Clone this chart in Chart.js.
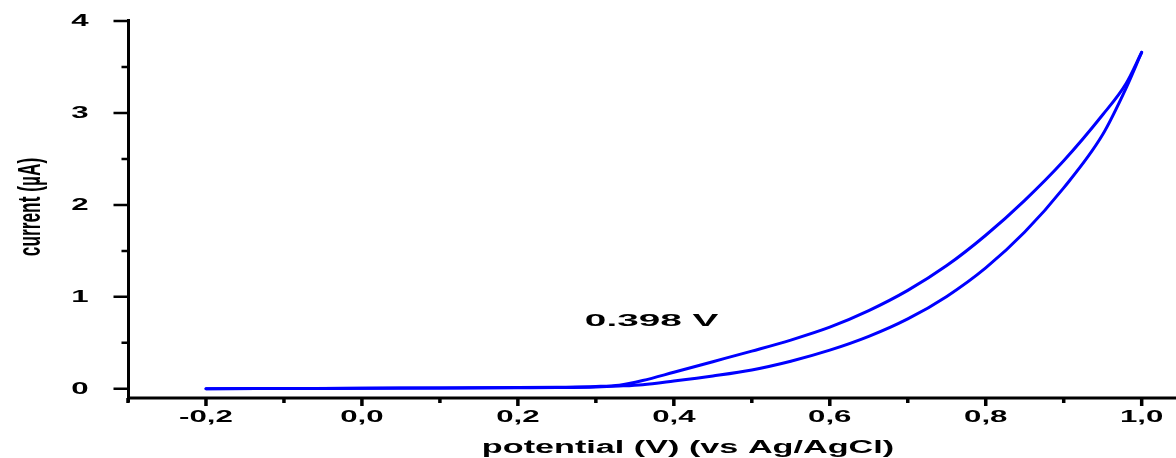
<!DOCTYPE html>
<html>
<head>
<meta charset="utf-8">
<title>Cyclic voltammogram</title>
<script src="https://cdn.jsdelivr.net/npm/chart.js@4"></script>
<style>
  html, body { margin: 0; padding: 0; background: #fff; }
  #wrap { width: 1176px; height: 458px; position: relative; }
</style>
</head>
<body>
<div id="wrap"><canvas id="cv"></canvas></div>
<script>
// Potential sweep (V vs Ag/AgCl)
const potential = [-0.2, -0.1, 0.0, 0.1, 0.2, 0.25, 0.3, 0.33, 0.36, 0.4, 0.45, 0.5, 0.55,
  0.6, 0.65, 0.7, 0.75, 0.8, 0.85, 0.9, 0.95, 0.98, 1.0];

// Current (uA) on the lower and upper branch of the loop
const forwardScan = [0.0, 0.003, 0.006, 0.009, 0.012, 0.014, 0.02, 0.03, 0.045, 0.085, 0.14, 0.205, 0.3,
  0.42, 0.57, 0.76, 1.005, 1.315, 1.705, 2.185, 2.765, 3.27, 3.66];
const reverseScan = [0.0, 0.003, 0.006, 0.01, 0.013, 0.017, 0.025, 0.04, 0.09, 0.18, 0.295, 0.41, 0.53,
  0.67, 0.85, 1.07, 1.34, 1.67, 2.05, 2.48, 2.98, 3.32, 3.66];

// Axis ticks
const xMajorTicks = [-0.2, 0.0, 0.2, 0.4, 0.6, 0.8, 1.0];
const xMinorTicks = [-0.3, -0.1, 0.1, 0.3, 0.5, 0.7, 0.9];
const yMajorTicks = [0, 1, 2, 3, 4];
const yMinorTicks = [0.5, 1.5, 2.5, 3.5];

const xTitle = "potential (V) (vs Ag/AgCl)";
const yTitle = "current (\u00B5A)";
const noteText = "0.398 V";
const notePos = { x: 0.369, y: 0.73 };

const BLUE = "rgb(0,0,255)";
const TICK_FONT = 'bold 16px "Liberation Sans", Arial, sans-serif';

function toPoints(xs, ys) {
  return xs.map((v, i) => ({ x: v, y: ys[i] }));
}

function fmtComma(v) {
  return v.toFixed(1).replace(".", ",");
}

// text drawn with a horizontal stretch factor
function wideText(ctx, text, x, y, sx, align) {
  ctx.save();
  ctx.translate(x, y);
  ctx.scale(sx, 1);
  ctx.textAlign = align;
  ctx.fillText(text, 0, 0);
  ctx.restore();
}

const axesPlugin = {
  id: "cvAxes",
  beforeDatasetsDraw(chart) {
    const ctx = chart.ctx;
    const x = chart.scales.x;
    const y = chart.scales.y;
    const left = x.left + 0.5;
    const base = y.bottom;

    ctx.save();
    ctx.strokeStyle = "#000";
    ctx.lineCap = "butt";

    // axis lines
    ctx.lineWidth = 3;
    ctx.beginPath();
    ctx.moveTo(left, y.getPixelForValue(4) - 2);
    ctx.lineTo(left, base + 4);
    ctx.moveTo(left - 1.5, base);
    ctx.lineTo(x.right, base);
    ctx.stroke();

    // y ticks point outward
    ctx.lineWidth = 2.5;
    ctx.beginPath();
    yMajorTicks.forEach((v) => {
      const py = y.getPixelForValue(v);
      ctx.moveTo(left - 15, py);
      ctx.lineTo(left, py);
    });
    yMinorTicks.forEach((v) => {
      const py = y.getPixelForValue(v);
      ctx.moveTo(left - 7, py);
      ctx.lineTo(left, py);
    });
    ctx.stroke();

    // x ticks point down
    ctx.lineWidth = 3.5;
    ctx.beginPath();
    xMajorTicks.forEach((v) => {
      const px = x.getPixelForValue(v);
      ctx.moveTo(px, base);
      ctx.lineTo(px, base + 8);
    });
    xMinorTicks.forEach((v) => {
      const px = x.getPixelForValue(v);
      ctx.moveTo(px, base);
      ctx.lineTo(px, base + 5);
    });
    ctx.stroke();
    ctx.restore();
  },
  afterDraw(chart) {
    const ctx = chart.ctx;
    const x = chart.scales.x;
    const y = chart.scales.y;

    ctx.save();
    ctx.fillStyle = "#000";
    ctx.font = TICK_FONT;
    ctx.textBaseline = "middle";

    xMajorTicks.forEach((v) => {
      wideText(ctx, fmtComma(v), x.getPixelForValue(v), y.bottom + 20, 1.95, "center");
    });
    yMajorTicks.forEach((v) => {
      wideText(ctx, String(v), 80, y.getPixelForValue(v) + 1, 1.95, "center");
    });

    // axis titles
    ctx.font = 'bold 18px "Liberation Sans", Arial, sans-serif';
    ctx.textBaseline = "alphabetic";
    wideText(ctx, xTitle, 688, 453, 1.9, "center");

    ctx.save();
    ctx.translate(31, 207);
    ctx.rotate(-Math.PI / 2);
    ctx.scale(0.54, 1);
    ctx.font = 'bold 32px "Liberation Sans", Arial, sans-serif';
    ctx.textAlign = "center";
    ctx.textBaseline = "middle";
    ctx.fillText(yTitle, 0, 0);
    ctx.restore();

    // peak potential note
    ctx.font = 'bold 17px "Liberation Sans", Arial, sans-serif';
    ctx.textBaseline = "middle";
    wideText(ctx, noteText, x.getPixelForValue(notePos.x) + 2, y.getPixelForValue(notePos.y), 2.28, "center");
    ctx.restore();
  }
};

new Chart(document.getElementById("cv"), {
  type: "scatter",
  data: {
    datasets: [
      {
        label: "forward",
        data: toPoints(potential, forwardScan),
        showLine: true,
        borderColor: BLUE,
        borderWidth: 3,
        pointRadius: 0,
        cubicInterpolationMode: "monotone",
        borderCapStyle: "round",
        borderJoinStyle: "round"
      },
      {
        label: "reverse",
        data: toPoints(potential, reverseScan),
        showLine: true,
        borderColor: BLUE,
        borderWidth: 3,
        pointRadius: 0,
        cubicInterpolationMode: "monotone",
        borderCapStyle: "round",
        borderJoinStyle: "round"
      }
    ]
  },
  options: {
    responsive: true,
    maintainAspectRatio: false,
    animation: false,
    layout: { padding: { top: 21, right: 0, bottom: 0, left: 0 } },
    plugins: {
      legend: { display: false },
      tooltip: { enabled: false }
    },
    scales: {
      x: {
        type: "linear",
        min: -0.3,
        max: 1.044,
        grid: { display: false },
        border: { display: false },
        ticks: { display: false },
        afterFit(scale) { scale.height = 60; }
      },
      y: {
        type: "linear",
        min: -0.1,
        max: 4,
        grid: { display: false },
        border: { display: false },
        ticks: { display: false },
        afterFit(scale) { scale.width = 128; }
      }
    }
  },
  plugins: [axesPlugin]
});
</script>
</body>
</html>
